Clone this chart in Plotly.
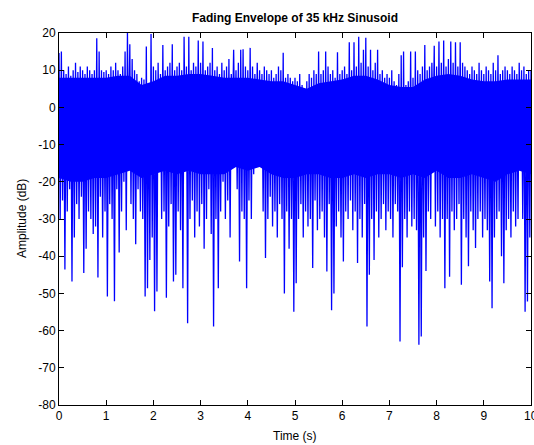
import plotly.graph_objects as go

# Upper tips of the fading envelope (dB), one every 0.05 s from 0 to 10 s
hi_db = [
    14.6, 15, 10, 9, 11, 8.5, 10, 12, 9.5, 11,
    10, 9, 11, 10, 9, 10, 18.6, 15, 10, 9.5,
    10, 9, 11, 10, 12, 10, 9, 11, 15, 20,
    17, 13, 10, 9, 7, 8, 7.5, 16.4, 6.5, 19.7,
    11, 10, 12, 9, 16.8, 10, 11, 12, 17, 10,
    11, 12, 10, 19, 11, 19, 10, 12, 11, 18,
    12, 17.7, 10, 11, 12, 16, 10, 11, 9, 12,
    10, 11, 13, 9, 15.5, 10, 12, 15.5, 15.6, 11,
    10, 16, 11, 9, 12, 10, 9, 11, 10, 9,
    10, 8, 9, 11, 10, 14.7, 8, 9, 8, 7,
    8, 7, 9, 6, 5, 7, 9, 8, 10, 9,
    15, 9, 10, 15, 11, 9, 10, 8, 14.8, 9,
    10, 11, 9, 17.5, 10, 17.5, 11, 19, 12, 15.5,
    18.7, 11, 15.5, 10, 12, 15.5, 9, 10, 8, 9,
    8, 10, 7, 6, 9, 14, 15, 6, 7, 15,
    8, 15, 10, 9, 11, 16.8, 10, 11, 12, 16.6,
    11, 17.7, 12, 18, 11, 13, 17.7, 12, 17.5, 11,
    17.5, 12, 11, 10, 9, 11, 10, 9, 12, 10,
    9, 11, 10, 9, 12, 10, 14, 9, 10, 11,
    10, 9, 11, 10, 9, 12, 10, 11, 9, 10,
    10,
]

# Lower tips (dB), one every 0.05 s from 0.025 s
lo_db = [
    -30, -25, -43.6, -28, -22, -46.8, -35, -26, -30, -24,
    -44.5, -38, -28, -30, -34, -32, -45.7, -24, -35, -28,
    -50.8, -26, -30, -52.1, -22, -39, -28, -20, -33, -12,
    -26, -30, -36.8, -22, -28, -30, -50.8, -48.6, -41, -35,
    -54.8, -49.5, -17, -30, -28, -51.2, -32, -26, -46.8, -45,
    -28, -33, -48.6, -13.5, -58, -30, -25, -35, -28, -32,
    -26, -38, -30, -22, -34, -58.9, -30, -48.6, -28, -20,
    -30, -25, -35, -5, -8, -22, -41.4, -28, -30, -48.6,
    -25, -30, -18, -12, -10, -13, -28, -40.5, -30, -24,
    -32, -28, -35, -26, -30, -50, -28, -38, -30, -54.9,
    -47.3, -30, -26, -35, -28, -32, -30, -43.2, -25, -33,
    -30, -28, -35, -44.1, -26, -54.5, -50, -32, -28, -35,
    -41.4, -28, -30, -25, -33, -28, -41.8, -30, -35, -26,
    -58.9, -45, -30, -41, -28, -35, -30, -26, -33, -28,
    -30, -35, -26, -28, -62.9, -43, -30, -35, -28, -32,
    -30, -33, -63.8, -61.6, -35, -44, -28, -30, -10, -32,
    -28, -35, -30, -48.6, -30, -45.5, -28, -33, -30, -26,
    -47.7, -30, -35, -42.7, -28, -33, -37.8, -30, -28, -35,
    -30, -33, -46.8, -54, -35, -30, -28, -40, -47.3, -33,
    -30, -35, -28, -32, -30, -11.8, -30, -54.9, -52.2, -35,
]

# Solid core of the band, read every 0.25 s (dB)
core_top_db = [
    8, 8, 8, 8, 8, 8.5, 8.5, 6, 7, 8.5,
    8.5, 9, 9, 8.5, 8, 8, 8, 7.5, 7, 7,
    6, 5, 6.5, 7, 7.5, 8.5, 8.5, 7.5, 6, 5.5,
    5.5, 7.5, 8.5, 9, 8.5, 7.5, 7, 7, 7.5, 7.5,
    7.5,
]
core_bot_db = [
    -19, -20, -20, -19, -19, -18, -17, -19, -18, -17,
    -18, -17, -18, -18, -18, -16, -17, -16, -18, -19,
    -19, -18, -18, -19, -19, -18, -19, -18, -18, -19,
    -18, -19, -17, -19, -19, -18, -19, -20, -18, -17,
    -18,
]

x_ticks = [0, 1, 2, 3, 4, 5, 6, 7, 8, 9, 10]
y_ticks = [20, 10, 0, -10, -20, -30, -40, -50, -60, -70, -80]

STEP = 0.05
CORE_STEP = 0.25
FONT = dict(family="Arial, Liberation Sans, sans-serif", size=12, color="#000000")
BLUE = "#0000FF"

t_vals, a_vals = [], []
for k, h in enumerate(hi_db):
    t_vals.append(k * STEP)
    a_vals.append(h)
    if k < len(lo_db):
        t_vals.append(k * STEP + STEP / 2)
        a_vals.append(lo_db[k])

t_core = [k * CORE_STEP for k in range(len(core_top_db))]

fig = go.Figure()
fig.add_trace(go.Scatter(
    x=t_core + t_core[::-1], y=core_top_db + core_bot_db[::-1],
    mode="lines", fill="toself", fillcolor=BLUE,
    line=dict(color=BLUE, width=0),
    hoverinfo="skip", showlegend=False,
))
fig.add_trace(go.Scatter(
    x=t_vals, y=a_vals, mode="lines",
    line=dict(color=BLUE, width=1.3),
    hoverinfo="skip", showlegend=False,
))

axis_common = dict(
    showline=True, linecolor="#000000", linewidth=1, mirror="ticks",
    ticks="inside", ticklen=5, tickcolor="#000000", tickwidth=1,
    showgrid=False, zeroline=False, tickfont=FONT,
)

fig.update_layout(
    width=534, height=445,
    margin=dict(l=59, r=3, t=33, b=40),
    paper_bgcolor="white", plot_bgcolor="white",
    xaxis=dict(range=[0, 10], tickvals=x_ticks[:-1],
               ticktext=[str(v) for v in x_ticks[:-1]], **axis_common),
    yaxis=dict(range=[-80, 20], tickvals=y_ticks,
               ticktext=[str(v) for v in y_ticks], **axis_common),
    title=dict(
        text="<b>Fading Envelope of 35 kHz Sinusoid</b>",
        x=0.5, xref="paper", xanchor="center",
        y=1 - 18 / 445, yanchor="middle", font=FONT,
    ),
    annotations=[
        dict(text=str(x_ticks[-1]), xref="x", yref="paper", x=x_ticks[-1], y=-11 / 372,
             xanchor="center", yanchor="middle", showarrow=False, font=FONT),
        dict(text="Time (s)", xref="paper", yref="paper", x=0.5, y=-31 / 372,
             xanchor="center", yanchor="middle", showarrow=False, font=FONT),
        dict(text="Amplitude (dB)", xref="paper", yref="paper", x=-37 / 472, y=0.5,
             xanchor="center", yanchor="middle", showarrow=False, textangle=-90, font=FONT),
    ],
)

fig.write_html("out.html")
